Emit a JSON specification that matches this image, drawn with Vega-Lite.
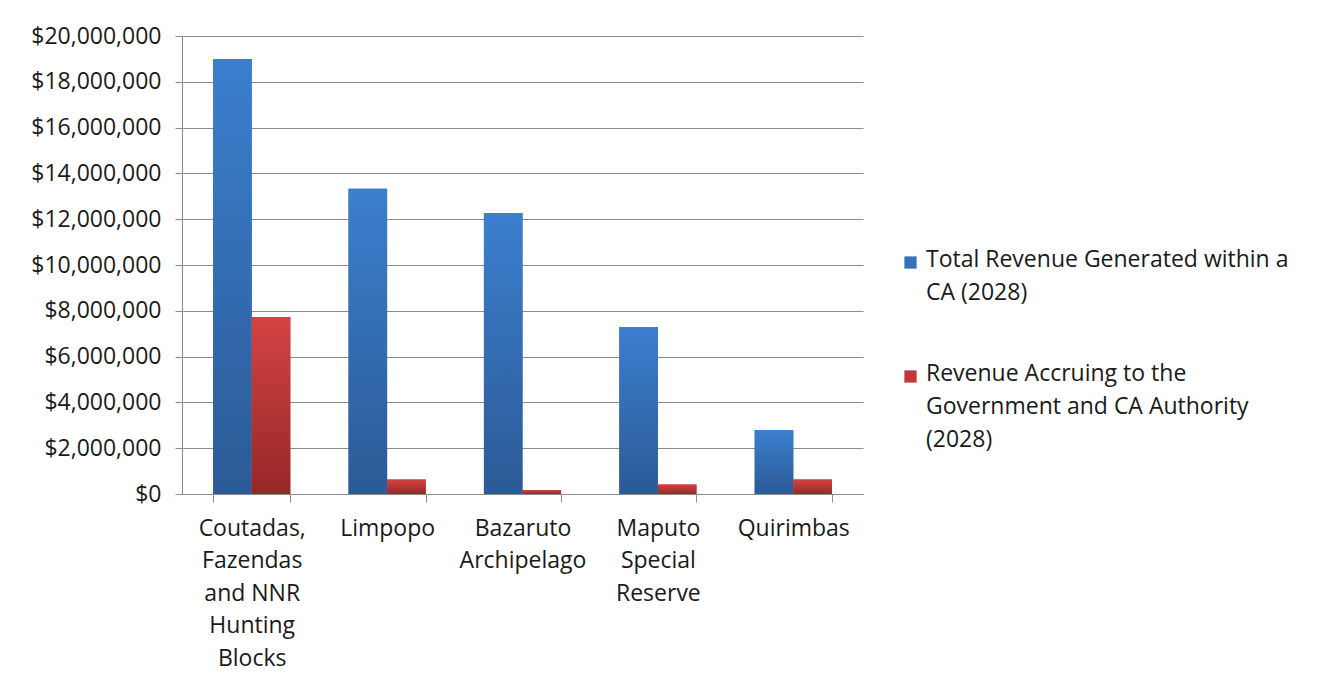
{
  "$schema": "https://vega.github.io/schema/vega-lite/v6.json",
  "width": 681,
  "height": 458,
  "autosize": "none",
  "padding": {"left": 182, "top": 36, "right": 466, "bottom": 194},
  "background": "white",
  "data": {"values": [
    {"area": "Coutadas, Fazendas and NNR Hunting Blocks", "series": "Total Revenue Generated within a CA (2028)", "revenue": 19000000},
    {"area": "Coutadas, Fazendas and NNR Hunting Blocks", "series": "Revenue Accruing to the Government and CA Authority (2028)", "revenue": 7730000},
    {"area": "Limpopo", "series": "Total Revenue Generated within a CA (2028)", "revenue": 13330000},
    {"area": "Limpopo", "series": "Revenue Accruing to the Government and CA Authority (2028)", "revenue": 630000},
    {"area": "Bazaruto Archipelago", "series": "Total Revenue Generated within a CA (2028)", "revenue": 12270000},
    {"area": "Bazaruto Archipelago", "series": "Revenue Accruing to the Government and CA Authority (2028)", "revenue": 180000},
    {"area": "Maputo Special Reserve", "series": "Total Revenue Generated within a CA (2028)", "revenue": 7290000},
    {"area": "Maputo Special Reserve", "series": "Revenue Accruing to the Government and CA Authority (2028)", "revenue": 410000},
    {"area": "Quirimbas", "series": "Total Revenue Generated within a CA (2028)", "revenue": 2800000},
    {"area": "Quirimbas", "series": "Revenue Accruing to the Government and CA Authority (2028)", "revenue": 630000}
  ]},
  "encoding": {
    "x": {
      "field": "area", "type": "nominal", "sort": null,
      "scale": {"paddingInner": 0.43, "paddingOuter": 0.23},
      "axis": {
        "title": null, "labelAngle": 0, "labelFontSize": 23, "labelFont": "Open Sans",
        "labelColor": "#1a1a1a", "labelLineHeight": 32.5, "labelPadding": 15,
        "labelBaseline": "top",
        "labelExpr": "datum.value == 'Coutadas, Fazendas and NNR Hunting Blocks' ? ['Coutadas,', 'Fazendas', 'and NNR', 'Hunting', 'Blocks'] : datum.value == 'Bazaruto Archipelago' ? ['Bazaruto', 'Archipelago'] : datum.value == 'Maputo Special Reserve' ? ['Maputo', 'Special', 'Reserve'] : datum.value",
        "domainColor": "#8c8c8c", "tickColor": "#8c8c8c", "tickSize": 8, "tickBand": "extent",
        "grid": false
      }
    },
    "xOffset": {"field": "series", "type": "nominal", "sort": null, "scale": {"domain": ["Total Revenue Generated within a CA (2028)", "Revenue Accruing to the Government and CA Authority (2028)"], "paddingInner": 0, "paddingOuter": 0}},
    "y": {
      "field": "revenue", "type": "quantitative",
      "scale": {"domain": [0, 20000000], "nice": false},
      "axis": {
        "title": null, "values": [0, 2000000, 4000000, 6000000, 8000000, 10000000, 12000000, 14000000, 16000000, 18000000, 20000000],
        "labelExpr": "'$' + format(datum.value, ',')",
        "labelFontSize": 23, "labelFont": "Open Sans", "labelColor": "#1a1a1a",
        "labelPadding": 14, "tickSize": 7, "tickColor": "#8c8c8c", "domainColor": "#8c8c8c",
        "gridColor": "#8c8c8c", "gridWidth": 1
      }
    }
  },
  "layer": [
    {
      "mark": {"type": "bar"},
      "encoding": {
        "color": {
          "field": "series", "type": "nominal", "sort": null,
          "scale": {
            "domain": ["Total Revenue Generated within a CA (2028)", "Revenue Accruing to the Government and CA Authority (2028)"],
            "range": ["#3570b8", "#c03838"]
          },
          "legend": {
            "title": null, "orient": "none", "legendX": 717, "legendY": 215,
            "symbolType": "square", "symbolSize": 150, "symbolStrokeWidth": 0,
            "labelFontSize": 23, "labelFont": "Open Sans", "labelColor": "#1a1a1a",
            "labelLimit": 500, "rowPadding": 57, "labelOffset": 4,
            "labelBaseline": "middle",
            "encode": {"labels": {"update": {"lineHeight": {"value": 33}, "baseline": {"value": "top"}, "dy": {"value": -14}}}},
            "labelExpr": "datum.label == 'Total Revenue Generated within a CA (2028)' ? ['Total Revenue Generated within a', 'CA (2028)'] : ['Revenue Accruing to the', 'Government and CA Authority', '(2028)']"
          }
        }
      }
    },
    {
      "transform": [{"filter": "datum.series == 'Total Revenue Generated within a CA (2028)'"}],
      "mark": {"type": "bar", "color": {"gradient": "linear", "x1": 0, "y1": 0, "x2": 0, "y2": 1, "stops": [{"offset": 0, "color": "#3b7fce"}, {"offset": 1, "color": "#2b5a96"}]}}
    },
    {
      "transform": [{"filter": "datum.series == 'Revenue Accruing to the Government and CA Authority (2028)'"}],
      "mark": {"type": "bar", "color": {"gradient": "linear", "x1": 0, "y1": 0, "x2": 0, "y2": 1, "stops": [{"offset": 0, "color": "#d44343"}, {"offset": 1, "color": "#962828"}]}}
    }
  ],
  "config": {"view": {"stroke": null}}
}
